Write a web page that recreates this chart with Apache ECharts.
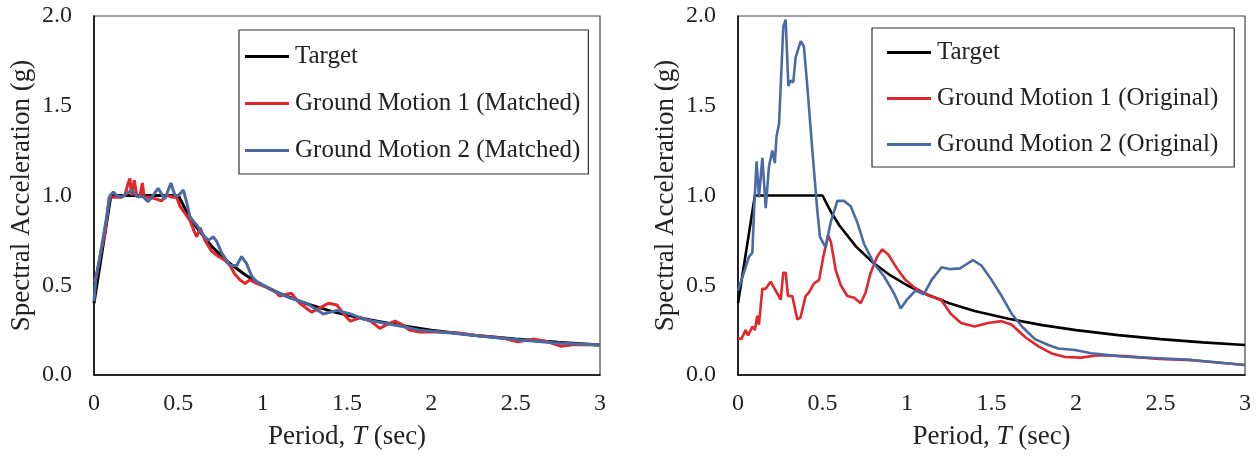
<!DOCTYPE html>
<html>
<head>
<meta charset="utf-8">
<script src="https://cdn.jsdelivr.net/npm/echarts@6/dist/echarts.min.js"></script>
<style>
html,body{margin:0;padding:0;background:#fff;}
#c{width:1258px;height:461px;}
</style>
</head>
<body>
<div id="c"></div>
<script>
// ---- data ----
const xTicks = ['0','0.5','1','1.5','2','2.5','3'];
const yTicks = ['0.0','0.5','1.0','1.5','2.0'];

const targetT  = [0, 0.1, 0.5, 0.55, 0.6, 0.7, 0.8, 0.9, 1.0, 1.1, 1.25, 1.4, 1.6, 1.8, 2.0, 2.25, 2.5, 2.75, 3.0];
const targetSA = [0.4, 1.0, 1.0, 0.909, 0.833, 0.714, 0.625, 0.556, 0.5, 0.455, 0.4, 0.357, 0.313, 0.278, 0.25, 0.222, 0.2, 0.182, 0.167];

const gm1Matched = [[0,0.52],[0.015,0.55],[0.035,0.66],[0.065,0.79],[0.09,0.99],[0.115,0.99],[0.154,0.99],[0.183,1.0],[0.203,1.07],[0.213,1.095],[0.223,1.0],[0.239,1.085],[0.253,1.0],[0.27,0.99],[0.287,1.07],[0.297,0.99],[0.33,0.99],[0.37,0.98],[0.40,0.97],[0.43,1.0],[0.47,0.99],[0.49,0.99],[0.51,0.94],[0.54,0.90],[0.57,0.86],[0.594,0.80],[0.609,0.77],[0.63,0.82],[0.658,0.75],[0.697,0.69],[0.737,0.66],[0.776,0.64],[0.806,0.61],[0.836,0.56],[0.865,0.53],[0.895,0.51],[0.924,0.53],[0.964,0.51],[1.02,0.49],[1.08,0.46],[1.10,0.44],[1.17,0.455],[1.22,0.40],[1.29,0.35],[1.33,0.37],[1.39,0.40],[1.44,0.39],[1.48,0.34],[1.52,0.30],[1.58,0.32],[1.64,0.30],[1.695,0.26],[1.735,0.28],[1.785,0.30],[1.83,0.28],[1.87,0.25],[1.93,0.24],[2.03,0.24],[2.15,0.235],[2.27,0.22],[2.43,0.205],[2.51,0.185],[2.61,0.20],[2.69,0.185],[2.77,0.16],[2.85,0.17],[3.0,0.167]];

const gm2Matched = [[0,0.41],[0.012,0.55],[0.03,0.63],[0.055,0.77],[0.075,0.88],[0.095,1.0],[0.115,1.02],[0.134,1.0],[0.164,0.99],[0.193,1.01],[0.223,1.03],[0.253,0.995],[0.29,0.995],[0.32,0.965],[0.35,1.0],[0.38,1.04],[0.40,1.01],[0.42,0.98],[0.456,1.07],[0.48,1.0],[0.50,1.0],[0.53,1.03],[0.55,0.96],[0.569,0.88],[0.609,0.835],[0.648,0.78],[0.678,0.75],[0.707,0.77],[0.727,0.745],[0.757,0.68],[0.806,0.61],[0.846,0.61],[0.875,0.66],[0.905,0.62],[0.935,0.55],[0.964,0.52],[1.024,0.49],[1.10,0.455],[1.16,0.43],[1.26,0.40],[1.36,0.34],[1.44,0.36],[1.52,0.34],[1.60,0.31],[1.715,0.29],[1.83,0.27],[1.93,0.25],[2.13,0.232],[2.33,0.213],[2.53,0.195],[2.72,0.18],[3.0,0.167]];

const gm1Original = [[0,0.204],[0.02,0.20],[0.045,0.25],[0.06,0.22],[0.085,0.27],[0.10,0.25],[0.114,0.33],[0.124,0.28],[0.144,0.48],[0.164,0.48],[0.193,0.52],[0.223,0.47],[0.253,0.42],[0.268,0.57],[0.282,0.57],[0.296,0.44],[0.321,0.44],[0.351,0.31],[0.37,0.32],[0.40,0.44],[0.42,0.46],[0.45,0.51],[0.48,0.53],[0.505,0.66],[0.533,0.78],[0.55,0.74],[0.578,0.585],[0.608,0.50],[0.647,0.44],[0.687,0.43],[0.726,0.40],[0.755,0.46],[0.785,0.57],[0.824,0.66],[0.854,0.70],[0.89,0.67],[0.943,0.59],[0.99,0.53],[1.04,0.49],[1.12,0.446],[1.146,0.436],[1.2,0.42],[1.26,0.34],[1.32,0.29],[1.40,0.27],[1.48,0.29],[1.56,0.30],[1.62,0.28],[1.70,0.21],[1.78,0.158],[1.856,0.12],[1.935,0.10],[2.03,0.097],[2.13,0.11],[2.29,0.105],[2.49,0.09],[2.685,0.082],[3.0,0.056]];

const gm2Original = [[0,0.47],[0.035,0.57],[0.065,0.66],[0.085,0.68],[0.095,0.92],[0.11,1.19],[0.124,0.99],[0.144,1.21],[0.164,0.93],[0.183,1.16],[0.203,1.25],[0.218,1.18],[0.228,1.33],[0.243,1.40],[0.268,1.94],[0.282,1.98],[0.298,1.61],[0.31,1.64],[0.327,1.63],[0.341,1.77],[0.371,1.86],[0.39,1.83],[0.41,1.61],[0.44,1.25],[0.469,0.92],[0.485,0.77],[0.519,0.71],[0.548,0.85],[0.588,0.97],[0.627,0.97],[0.667,0.94],[0.706,0.85],[0.746,0.73],[0.805,0.62],[0.864,0.55],[0.923,0.455],[0.963,0.37],[1.0,0.42],[1.05,0.47],[1.10,0.45],[1.146,0.53],[1.205,0.60],[1.25,0.59],[1.314,0.594],[1.34,0.61],[1.39,0.64],[1.44,0.61],[1.50,0.53],[1.56,0.44],[1.62,0.34],[1.68,0.27],[1.757,0.20],[1.836,0.167],[1.895,0.148],[1.994,0.139],[2.09,0.121],[2.29,0.102],[2.49,0.093],[2.685,0.084],[3.0,0.056]];

const namesLeft  = ['Target','Ground Motion 1 (Matched)','Ground Motion 2 (Matched)'];
const namesRight = ['Target','Ground Motion 1 (Original)','Ground Motion 2 (Original)'];

// ---- chart ----
const FONT = 'Liberation Serif';
const TXT = '#222';
const RED = '#e3262b';
const BLUE = '#4a6aa3';
const targetData = targetT.map((t, i) => [t, targetSA[i]]);

function xAxis(gi) {
  return {
    type: 'value', gridIndex: gi, min: 0, max: 3, interval: 0.5,
    axisLine: {show: true, onZero: false, lineStyle: {color: '#000', width: 1.5}},
    axisTick: {show: false},
    splitLine: {show: false},
    axisLabel: {fontFamily: FONT, fontSize: 24, color: TXT, margin: 17,
      formatter: v => xTicks[Math.round(v / 0.5)]},
    name: '{a|Period, }{i|T}{a| (sec)}',
    nameLocation: 'middle', nameGap: 48,
    nameTextStyle: {rich: {
      a: {fontFamily: FONT, fontSize: 27, color: TXT},
      i: {fontFamily: FONT, fontSize: 27, color: TXT, fontStyle: 'italic'}
    }}
  };
}
function yAxis(gi) {
  return {
    type: 'value', gridIndex: gi, min: 0, max: 2, interval: 0.5,
    axisLine: {show: true, onZero: false, lineStyle: {color: '#000', width: 1.5}},
    axisTick: {show: false},
    splitLine: {show: false},
    axisLabel: {fontFamily: FONT, fontSize: 24, color: TXT, margin: 22,
      formatter: v => yTicks[Math.round(v / 0.5)]},
    name: 'Spectral Acceleration (g)',
    nameLocation: 'middle', nameGap: 59,
    nameTextStyle: {fontFamily: FONT, fontSize: 27, color: TXT}
  };
}
function line(name, data, color, gi, w) {
  return {
    type: 'line', name: name, data: data, xAxisIndex: gi, yAxisIndex: gi,
    symbol: 'none', showSymbol: false, smooth: false,
    lineStyle: {color: color, width: w}, itemStyle: {color: color},
    animation: false
  };
}
function legend(names, left, top, padding, gap) {
  return {
    data: names.map(n => ({name: n, icon: 'rect'})),
    orient: 'vertical', left: left, top: top,
    backgroundColor: '#fff', borderColor: '#333', borderWidth: 1.2,
    padding: padding, itemGap: gap, itemWidth: 44, itemHeight: 3,
    selectedMode: false,
    textStyle: {fontFamily: FONT, fontSize: 25, color: TXT, lineHeight: 25, padding: [0, 0, 0, 1]}
  };
}

const chart = echarts.init(document.getElementById('c'), null, {renderer: 'canvas'});
chart.setOption({
  backgroundColor: '#fff',
  animation: false,
  grid: [
    {left: 94, top: 16, width: 506, height: 359, show: true, borderColor: '#444', borderWidth: 1.2},
    {left: 738, top: 16, width: 507, height: 359, show: true, borderColor: '#444', borderWidth: 1.2}
  ],
  xAxis: [xAxis(0), xAxis(1)],
  yAxis: [yAxis(0), yAxis(1)],
  legend: [
    legend(namesLeft, 239, 30, [14, 8, 11, 6], 22),
    legend(namesRight, 872, 28, [12, 16, 10, 15], 21)
  ],
  series: [
    line(namesLeft[0], targetData, '#000', 0, 3),
    line(namesLeft[1], gm1Matched, RED, 0, 3),
    line(namesLeft[2], gm2Matched, BLUE, 0, 3),
    line(namesRight[0], targetData, '#000', 1, 2.6),
    line(namesRight[1], gm1Original, RED, 1, 2.6),
    line(namesRight[2], gm2Original, BLUE, 1, 2.6)
  ]
});
</script>
</body>
</html>
